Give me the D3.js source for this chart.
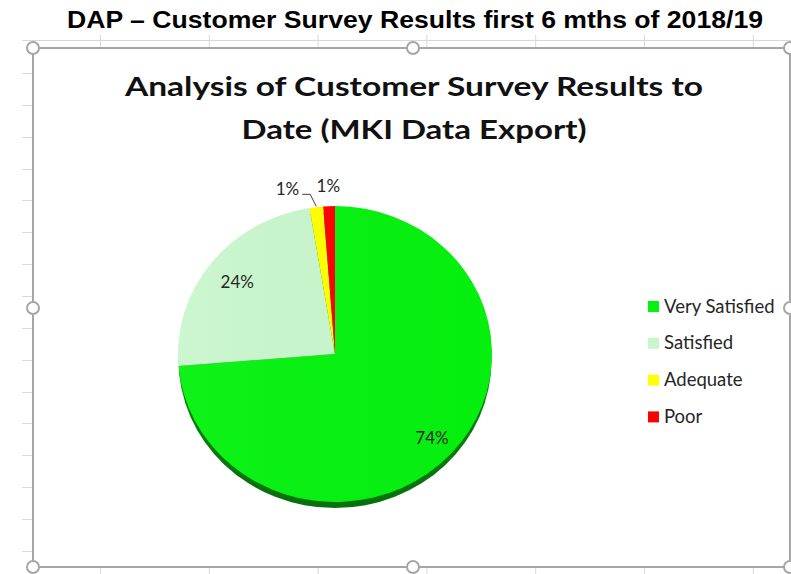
<!DOCTYPE html>
<html>
<head>
<meta charset="utf-8">
<script src="https://cdn.jsdelivr.net/npm/d3@7"></script>
<style>
  html, body { margin: 0; padding: 0; background: #ffffff; }
  svg { display: block; }
</style>
</head>
<body>
<svg id="chart" width="791" height="574"></svg>
<script>
// ---------- data ----------
const pageTitle = "DAP \u2013 Customer Survey Results first 6 mths of 2018/19";
const chartTitleLines = ["Analysis of Customer Survey Results to", "Date (MKI Data Export)"];
const categories = ["Very Satisfied", "Satisfied", "Adequate", "Poor"];
const values = [73.7, 23.7, 1.4, 1.2];
const colors = ["#05f20f", "#c9f6cd", "#ffff00", "#ff0000"];

// ---------- layout / style ----------
const W = 791, H = 574;
const svg = d3.select("#chart");
const frame = { left: 33, top: 48, right: 790, bottom: 567 };
const gridColor = "#d9d9d9", frameColor = "#a6a6a6";
const font = "Lato, 'Open Sans', sans-serif";

// spreadsheet grid bits peeking around the chart frame
const colXs = d3.range(7).map(i => 100 + i * 108.8);
const rowYs = d3.range(16).map(i => 73 + i * 31.86);
const grid = svg.append("g").attr("stroke", gridColor).attr("stroke-width", 1);
grid.append("line").attr("x1", 22).attr("x2", W).attr("y1", 40.5).attr("y2", 40.5);
grid.selectAll(".vt").data(colXs).join("line")
  .attr("x1", d => d + 0.5).attr("x2", d => d + 0.5).attr("y1", 35).attr("y2", frame.top);
grid.selectAll(".vb").data(colXs).join("line")
  .attr("x1", d => d + 0.5).attr("x2", d => d + 0.5).attr("y1", frame.bottom).attr("y2", H);
grid.selectAll(".hl").data(rowYs).join("line")
  .attr("x1", 22).attr("x2", frame.left).attr("y1", d => Math.round(d) + 0.5).attr("y2", d => Math.round(d) + 0.5);

// page title
svg.append("text")
  .attr("x", 415).attr("y", 28)
  .attr("text-anchor", "middle")
  .attr("font-family", "'Liberation Sans', Arial, sans-serif")
  .attr("font-weight", "bold").attr("font-size", 24)
  .attr("fill", "#000")
  .attr("textLength", 696).attr("lengthAdjust", "spacingAndGlyphs")
  .text(pageTitle);

// chart frame
svg.append("rect")
  .attr("x", frame.left).attr("y", frame.top)
  .attr("width", frame.right - frame.left).attr("height", frame.bottom - frame.top)
  .attr("fill", "#fff").attr("stroke", frameColor).attr("stroke-width", 2);

// chart title
const titleG = svg.append("g");
titleG.selectAll("text").data(chartTitleLines).join("text")
  .attr("x", 414).attr("y", (d, i) => 96 + i * 43)
  .attr("text-anchor", "middle")
  .attr("font-family", font).attr("font-weight", "bold").attr("font-size", 27)
  .attr("fill", "#111")
  .attr("textLength", (d, i) => [578, 345][i])
  .attr("lengthAdjust", "spacingAndGlyphs")
  .text(d => d);

// ---------- pie ----------
const cx = 335, cy = 354, rx = 157, ry = 148, depth = 6;
const pie = d3.pie().sort(null).value(d => d.v);
const data = categories.map((c, i) => ({ c, v: values[i], col: colors[i] }));
const arcs = pie(data);
const arc = d3.arc().innerRadius(0).outerRadius(rx);
const sy = ry / rx;

const defs = svg.append("defs");
const grad = defs.append("linearGradient").attr("id", "sideGrad")
  .attr("x1", 0).attr("x2", 0).attr("y1", 0).attr("y2", 1);
grad.append("stop").attr("offset", "0%").attr("stop-color", "#0aa012");
grad.append("stop").attr("offset", "100%").attr("stop-color", "#06700a");

// side (depth) of the 3D pie
svg.append("ellipse")
  .attr("cx", cx).attr("cy", cy + depth).attr("rx", rx - 0.5).attr("ry", ry)
  .attr("fill", "url(#sideGrad)");

// top face
const topG = svg.append("g").attr("transform", `translate(${cx},${cy}) scale(1,${sy})`);
topG.selectAll("path").data(arcs).join("path")
  .attr("d", arc)
  .attr("fill", d => d.data.col);

// subtle lighting overlay
const light = defs.append("linearGradient").attr("id", "light")
  .attr("x1", 0).attr("x2", 1).attr("y1", 0).attr("y2", 0);
light.append("stop").attr("offset", "0%").attr("stop-color", "#ffffff").attr("stop-opacity", 0.04);
light.append("stop").attr("offset", "100%").attr("stop-color", "#000000").attr("stop-opacity", 0.01);
svg.append("ellipse").attr("cx", cx).attr("cy", cy).attr("rx", rx).attr("ry", ry)
  .attr("fill", "url(#light)");

// ---------- data labels ----------
const fmt = v => Math.round(v) + "%";
const pt = (a, f) => [cx + Math.sin(a) * rx * f, cy - Math.cos(a) * ry * f];
const mid = d => (d.startAngle + d.endAngle) / 2;
const insideFactor = { "Very Satisfied": 0.84, "Satisfied": 0.79 };
const labelG = svg.append("g")
  .attr("font-family", font).attr("font-size", 17).attr("fill", "#262626");

arcs.forEach(d => {
  const a = mid(d);
  if (insideFactor[d.data.c] !== undefined) {
    const p = pt(a, insideFactor[d.data.c]);
    labelG.append("text").attr("x", p[0]).attr("y", p[1] + 6)
      .attr("text-anchor", "middle").text(fmt(d.data.v));
  } else if (d.data.c === "Adequate") {
    const p0 = pt(a, 1.005);
    const p1 = [p0[0] - 6, p0[1] - 12];
    const p2 = [p1[0] - 8, p1[1]];
    labelG.append("path")
      .attr("d", d3.line()([p0, p1, p2]))
      .attr("fill", "none").attr("stroke", "#404040").attr("stroke-width", 1);
    labelG.append("text").attr("x", p2[0] - 3).attr("y", p2[1] + 1)
      .attr("text-anchor", "end").text(fmt(d.data.v));
  } else {
    const p = pt(a, 1.13);
    labelG.append("text").attr("x", p[0]).attr("y", p[1] + 5)
      .attr("text-anchor", "middle").text(fmt(d.data.v));
  }
});

// ---------- legend ----------
const legend = svg.append("g").attr("transform", "translate(648,301)");
const li = legend.selectAll("g").data(data).join("g")
  .attr("transform", (d, i) => `translate(0,${i * 36.8})`);
li.append("rect").attr("width", 11).attr("height", 11).attr("fill", d => d.col);
li.append("text").attr("x", 16).attr("y", 11.5)
  .attr("font-family", font).attr("font-size", 18.5).attr("fill", "#262626")
  .text(d => d.c);

// ---------- selection handles ----------
const handles = [
  [frame.left, frame.top], [413, frame.top], [frame.right, frame.top],
  [frame.left, 308], [frame.right, 308],
  [frame.left, frame.bottom], [413, frame.bottom], [frame.right, frame.bottom]
];
svg.append("g").selectAll("circle").data(handles).join("circle")
  .attr("cx", d => d[0]).attr("cy", d => d[1]).attr("r", 6)
  .attr("fill", "#fff").attr("stroke", frameColor).attr("stroke-width", 2);
</script>
</body>
</html>
